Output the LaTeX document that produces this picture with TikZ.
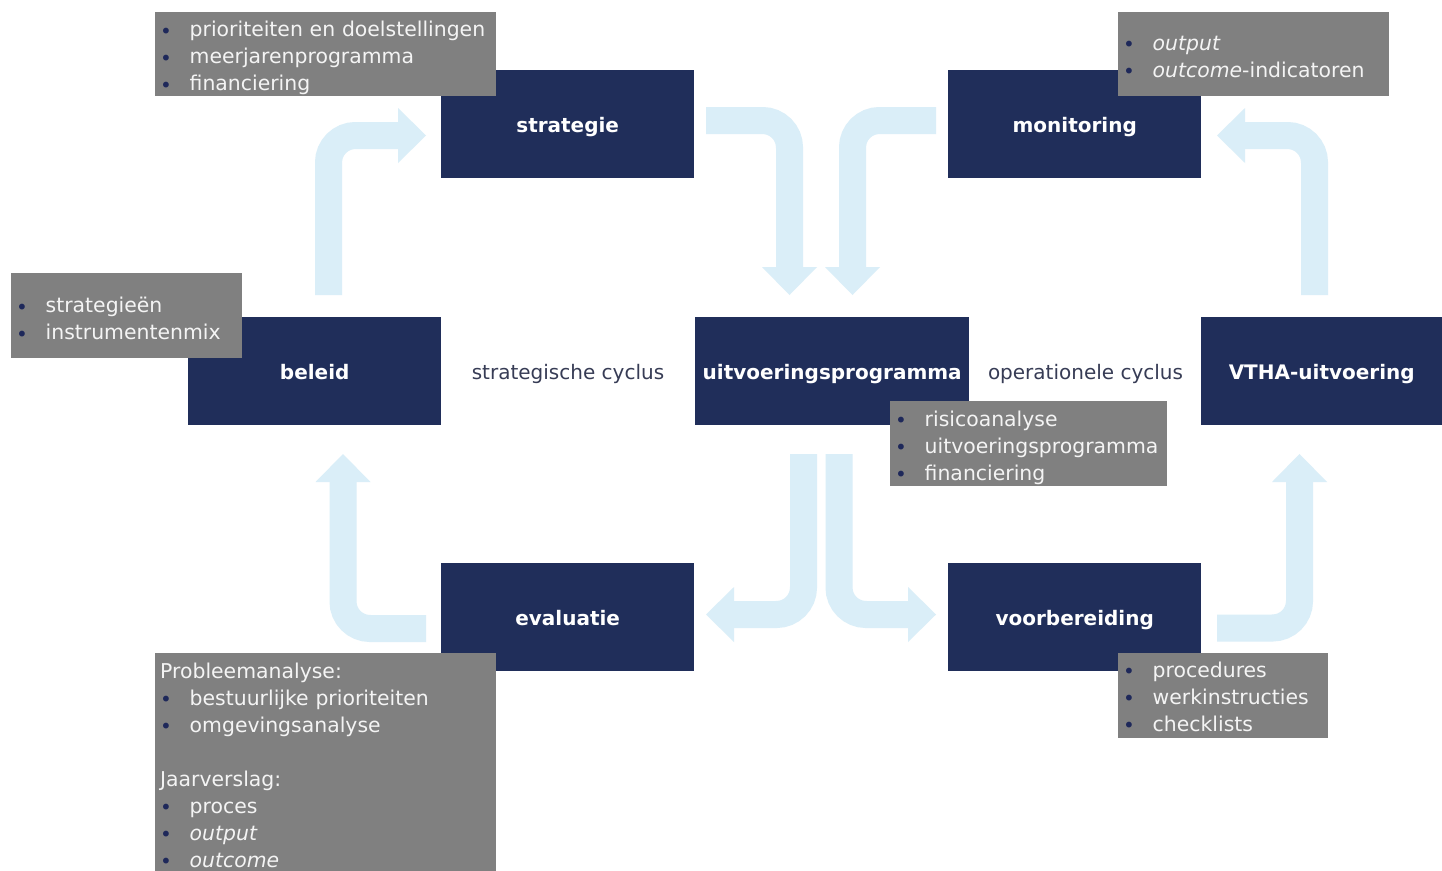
\documentclass[tikz,border=0pt]{standalone}
\usepackage{fontspec}
\setmainfont{DejaVu Sans}
\definecolor{navy}{RGB}{32,46,90}
\definecolor{boxgray}{RGB}{128,128,128}
\definecolor{graytext}{RGB}{244,244,244}
\definecolor{flowc}{RGB}{218,238,248}
\definecolor{bulletc}{RGB}{30,40,90}
\definecolor{labelc}{RGB}{55,60,85}
\newcommand\bulit{\makebox[29.5pt][l]{\raisebox{-1.2pt}[0pt][0pt]{\textcolor{bulletc}{\fontsize{20}{20}\selectfont •}}}}
% first-line strut that moves the text block down by #1
\newcommand\dn[1]{\rule{0pt}{\dimexpr 15.6pt+2\dimexpr #1\relax\relax}}
\tikzset{
  flow/.style={draw=flowc, line width=27pt, rounded corners=27pt},
  bhead/.pic={\fill[flowc] (0,27.5) -- (28,0) -- (0,-27.5) -- cycle;},
  darkbox/.style={fill=navy, text=white, font=\bfseries\fontsize{20}{24}\selectfont,
    inner sep=0pt, anchor=north west, text height=17pt, text depth=0pt},
  graybox/.style={fill=boxgray, text=graytext, font=\fontsize{20.4}{27}\selectfont,
    align=left, anchor=north west, inner xsep=5pt, inner ysep=0pt},
  cyclab/.style={text=labelc, font=\fontsize{20}{24}\selectfont, inner sep=0pt}
}
\begin{document}
\begin{tikzpicture}[x=1pt,y=-1pt]
\clip (0,0) rectangle (1442,870);
\fill[white] (0,0) rectangle (1442,870);

% flow arrows
\coordinate (a1s) at (328.5,295);  \coordinate (a1e) at (398,135.5);
\coordinate (a2s) at (706,120.5);  \coordinate (a2e) at (789.5,267);
\coordinate (a3s) at (936,120.5);  \coordinate (a3e) at (852.5,267);
\coordinate (a4s) at (1314.5,295); \coordinate (a4e) at (1245,135.5);
\coordinate (a5s) at (426,628.5);  \coordinate (a5e) at (343,482);
\coordinate (a6s) at (1217,628);   \coordinate (a6e) at (1299.5,482);
\coordinate (a7s) at (803.5,454);  \coordinate (a7e) at (734,614.5);
\coordinate (a8s) at (839,454);    \coordinate (a8e) at (908,614.5);

\draw[flow] (a1s) |- (a1e); \pic at (a1e) {bhead};
\draw[flow] (a2s) -| (a2e); \pic[rotate=-90] at (a2e) {bhead};
\draw[flow] (a3s) -| (a3e); \pic[rotate=-90] at (a3e) {bhead};
\draw[flow] (a4s) |- (a4e); \pic[rotate=180] at (a4e) {bhead};
\draw[flow] (a5s) -| (a5e); \pic[rotate=90] at (a5e) {bhead};
\draw[flow] (a6s) -| (a6e); \pic[rotate=90] at (a6e) {bhead};
\draw[flow] (a7s) |- (a7e); \pic[rotate=180] at (a7e) {bhead};
\draw[flow] (a8s) |- (a8e); \pic at (a8e) {bhead};

% dark boxes
\node[darkbox, minimum width=253pt, minimum height=108pt] (strat) at (441,70) {strategie};
\node[darkbox, minimum width=253pt, minimum height=108pt] (monit) at (948,70) {monitoring};
\node[darkbox, minimum width=253pt, minimum height=108pt] (beleid) at (188,317) {beleid};
\node[darkbox, minimum width=274pt, minimum height=108pt] (uitv) at (695,317) {uitvoeringsprogramma};
\node[darkbox, minimum width=241pt, minimum height=108pt] (vtha) at (1201,317) {VTHA-uitvoering};
\node[darkbox, minimum width=253pt, minimum height=108pt] (eval) at (441,563) {evaluatie};
\node[darkbox, minimum width=253pt, minimum height=108pt] (voorb) at (948,563) {voorbereiding};

% cycle labels
\node[cyclab] (lab1) at (568,374) {strategische cyclus};
\node[cyclab] (lab2) at (1085.5,374) {operationele cyclus};

% gray boxes
\node[graybox, text width=331pt, minimum height=84pt] (g1) at (155,12)
  {\dn{4pt}\bulit prioriteiten en doelstellingen\\\bulit meerjarenprogramma\\\bulit financiering};
\node[graybox, text width=261pt, minimum height=84pt] (g2) at (1118,12)
  {\dn{2pt}\bulit\textit{output}\\\bulit\textit{outcome}-indicatoren};
\node[graybox, text width=221pt, minimum height=85pt] (g3) at (11,273)
  {\dn{3pt}\bulit strategieën\\\bulit instrumentenmix};
\node[graybox, text width=267pt, minimum height=85pt] (g4) at (890,401)
  {\dn{4pt}\bulit risicoanalyse\\\bulit uitvoeringsprogramma\\\bulit financiering};
\node[graybox, text width=331pt, minimum height=224pt] (g5) at (155,653)
  {\dn{0pt}Probleemanalyse:\\\bulit bestuurlijke prioriteiten\\\bulit omgevingsanalyse\\[27pt]
   Jaarverslag:\\\bulit proces\\\bulit\textit{output}\\\bulit\textit{outcome}};
\node[graybox, text width=200pt, minimum height=85pt] (g6) at (1118,653)
  {\dn{1pt}\bulit procedures\\\bulit werkinstructies\\\bulit checklists};
\end{tikzpicture}
\end{document}
